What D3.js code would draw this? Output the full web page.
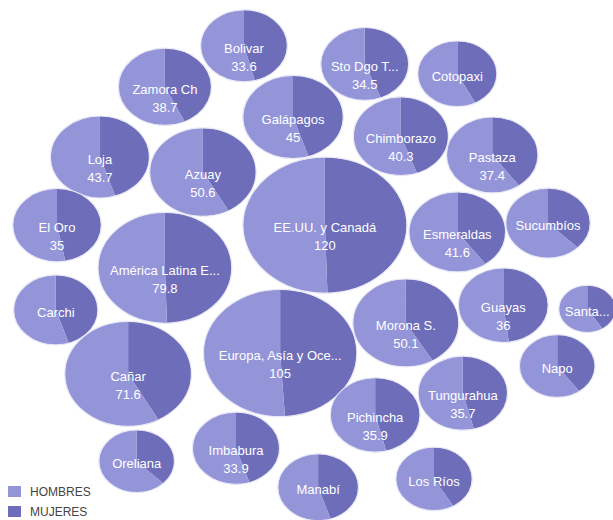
<!DOCTYPE html>
<html>
<head>
<meta charset="utf-8">
<script src="https://cdn.jsdelivr.net/npm/d3@7"></script>
<style>
  body { margin: 0; background: #fff; }
  text { font-family: Arial, "Liberation Sans", sans-serif; }
</style>
</head>
<body>
<svg id="chart"></svg>
<script>
// bubble data: name, total, share of MUJERES (%), layout position (% of width / height)
const names = ["Bolivar", "Zamora Ch", "Sto Dgo T...", "Cotopaxi", "Galápagos", "Chimborazo",
  "Loja", "Azuay", "Pastaza", "EE.UU. y Canadá", "El Oro", "Esmeraldas", "Sucumbíos",
  "América Latina E...", "Carchi", "Guayas", "Santa...", "Morona S.", "Europa, Asía y Oce...",
  "Napo", "Cañar", "Tungurahua", "Pichincha", "Imbabura", "Oreliana", "Los Ríos", "Manabí"];
const totals = [33.6, 38.7, 34.5, 28, 45, 40.3, 43.7, 50.6, 37.4, 120, 35, 41.6, 31.8,
  79.8, 31.7, 36, 14.5, 50.1, 105, 25.5, 71.6, 35.7, 35.9, 33.9, 25.5, 26, 29];
const mujeresPct = [46, 43, 44, 42.5, 45, 44.5, 45, 42, 40, 49.5, 47, 40, 37.5,
  49.5, 45, 48, 41, 41.5, 49, 40, 42, 46, 46, 45, 37.5, 41.5, 45];
const xPos = [39.8, 26.9, 59.5, 74.6, 47.8, 65.4, 16.3, 33.1, 80.3, 53.0, 9.3, 74.6, 89.4,
  26.9, 9.1, 82.1, 95.8, 66.2, 45.7, 90.9, 20.9, 75.5, 61.2, 38.5, 22.3, 70.8, 51.9];
const yPos = [8.8, 16.7, 12.3, 14.2, 22.5, 26.2, 30.2, 33.1, 29.8, 43.3, 43.3, 44.6, 42.9,
  51.5, 59.6, 58.7, 59.4, 62.1, 67.9, 70.4, 71.9, 75.6, 79.8, 86.2, 88.7, 92.1, 93.7];
const seriesNames = ["HOMBRES", "MUJERES"];
const colors = {HOMBRES: "#9494d9", MUJERES: "#6e6db9"};

const width = 613, height = 520;

const bubbles = names.map((n, i) => ({
    name: n,
    total: totals[i],
    mujeres: totals[i] * mujeresPct[i] / 100,
    hombres: totals[i] * (1 - mujeresPct[i] / 100),
    x: xPos[i],
    y: yPos[i]
}));

const svg = d3.select("#chart")
    .attr("width", width)
    .attr("height", height);

const xScale = d3.scaleLinear().domain([0, 100]).range([0, width]);
const yScale = d3.scaleLinear().domain([0, 100]).range([0, height]);
// bubbles are drawn as ellipses, wider than tall
const rxScale = d3.scaleSqrt().domain([0, 120]).range([0, 82]);
const ryScale = d3.scaleSqrt().domain([0, 120]).range([0, 68]);

const pie = d3.pie().sort(null).value(function (d) { return d.value; });

const node = svg.selectAll(".bubble")
    .data(bubbles)
    .enter().append("g")
    .attr("class", "bubble")
    .attr("transform", function (d) { return "translate(" + xScale(d.x) + "," + yScale(d.y) + ")"; });

node.append("g")
    .attr("transform", function (d) { return "scale(" + (rxScale(d.total) / ryScale(d.total)) + ",1)"; })
    .selectAll("path")
    .data(function (d) {
        const arc = d3.arc().innerRadius(0).outerRadius(ryScale(d.total));
        return pie([{key: "MUJERES", value: d.mujeres}, {key: "HOMBRES", value: d.hombres}])
            .map(function (s) { s.path = arc(s); return s; });
    })
    .enter().append("path")
    .attr("d", function (s) { return s.path; })
    .style("fill", function (s) { return colors[s.data.key]; });

// thin light outline
node.append("ellipse")
    .attr("rx", function (d) { return rxScale(d.total); })
    .attr("ry", function (d) { return ryScale(d.total); })
    .style("fill", "none")
    .style("stroke", "#e8e8f6")
    .style("stroke-width", 1.2);

node.append("text")
    .attr("text-anchor", "middle")
    .attr("y", 7)
    .style("font-size", "13px")
    .style("fill", "#fff")
    .text(function (d) { return d.name; });

node.filter(function (d) { return d.total >= 33; })
    .append("text")
    .attr("text-anchor", "middle")
    .attr("y", 25)
    .style("font-size", "13px")
    .style("fill", "#fff")
    .text(function (d) { return d3.format("")(d.total); });

//Legend
const legend = svg.selectAll(".legend")
    .data(seriesNames)
    .enter().append("g")
    .attr("class", "legend")
    .attr("transform", function (d, i) { return "translate(8," + (486 + i * 20) + ")"; });

legend.append("rect")
    .attr("width", 13)
    .attr("height", 11)
    .style("fill", function (d) { return colors[d]; });

legend.append("text")
    .attr("x", 22)
    .attr("y", 10)
    .style("font-size", "12px")
    .style("fill", "#444")
    .text(function (d) { return d; });
</script>
</body>
</html>
